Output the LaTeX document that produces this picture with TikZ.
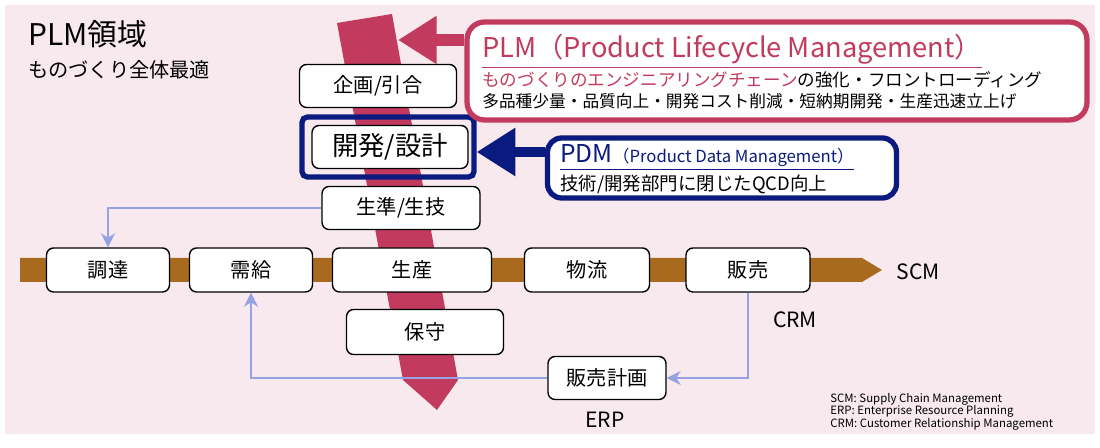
\documentclass[tikz,border=0pt]{standalone}
\usepackage{fontspec}
\setmainfont{Noto Sans CJK JP}
\usetikzlibrary{arrows.meta}
\definecolor{bgpink}{HTML}{F8E9EE}
\definecolor{plmred}{HTML}{C23A5E}
\definecolor{scmbrown}{HTML}{A86A1E}
\definecolor{pdmblue}{HTML}{0A1A7E}
\definecolor{flowblue}{HTML}{95A3E3}
\tikzset{
  proc/.style={draw=black, thick, fill=white, rounded corners=4pt, font=\fontsize{11.5}{12}\selectfont},
  flow/.style={flowblue, line width=1.4pt, -{Stealth[length=8pt,width=8pt]}},
}
\begin{document}
\begin{tikzpicture}[x=0.02cm, y=-0.02cm]
    \useasboundingbox (0,0) rectangle (1100,448);
    \fill[bgpink] (5,5) rectangle (1095,434);
    % SCM band
    \fill[scmbrown] (20,258) -- (862,258) -- (882,270) -- (862,282) -- (20,282) -- cycle;
    % PLM ribbon
    \fill[plmred] (337,23) -- (392,14) -- (458,380) -- (437,410) -- (403,380) -- cycle;
    \node[anchor=west, font=\fontsize{17}{17}\selectfont] (title) at (22,34) {PLM領域};
    \node[anchor=west, font=\fontsize{11.5}{12}\selectfont] (subtitle) at (22,70) {ものづくり全体最適};
    % process boxes
    \node[proc, minimum width=3.14cm, minimum height=0.86cm] (kikaku) at (378,86) {企画/引合};
    \node[draw=pdmblue, line width=3pt, rounded corners=3pt, minimum width=3.44cm, minimum height=1.2cm] (pdmframe) at (388,147) {};
    \node[proc, minimum width=3.12cm, minimum height=0.86cm, font=\fontsize{15}{15}\selectfont] (kaihatsu) at (390,147) {開発/設計};
    \node[proc, minimum width=3.16cm, minimum height=0.86cm] (seijun) at (401,208) {生準/生技};
    \node[proc, minimum width=2.46cm, minimum height=0.88cm] (chotatsu) at (108,270) {調達};
    \node[proc, minimum width=2.46cm, minimum height=0.88cm] (jukyu) at (251,270) {需給};
    \node[proc, minimum width=3.18cm, minimum height=0.88cm] (seisan) at (412,270) {生産};
    \node[proc, minimum width=2.5cm, minimum height=0.88cm] (butsuryu) at (587,270) {物流};
    \node[proc, minimum width=2.48cm, minimum height=0.88cm] (hanbai) at (748,270) {販売};
    \node[proc, minimum width=3.14cm, minimum height=0.9cm] (hoshu) at (425,332) {保守};
    \node[proc, minimum width=2.36cm, minimum height=0.86cm] (keikaku) at (607,378) {販売計画};
    % labels
    \node[font=\fontsize{12}{12}\selectfont] (scm) at (918,272) {SCM};
    \node[font=\fontsize{12}{12}\selectfont] (crm) at (795,320) {CRM};
    \node[font=\fontsize{12}{12}\selectfont] (erp) at (605,420) {ERP};
    \node[anchor=north west, align=left, font=\fontsize{6.5}{7}\selectfont, inner sep=0pt] (legend) at (830,393)
      {SCM: Supply Chain Management\\ERP: Enterprise Resource Planning\\CRM: Customer Relationship Management};
    % flows
    \draw[flow] (seijun.west) -| (chotatsu.north);
    \draw[flow] (hanbai.south) |- (keikaku.east);
    \draw[flow] (keikaku.west) -| (jukyu.south);
    % PLM box
    \node[draw=plmred, line width=3pt, fill=white, rounded corners=10pt, minimum width=12.4cm, minimum height=1.96cm] (plmbox) at (777,71) {};
    \node[anchor=north west, align=left, inner sep=0pt] (plmtext) at (482,34)
      {{\fontsize{15.5}{17}\selectfont\color{plmred}\underline{PLM（Product Lifecycle Management）}}\\[1pt]
       {\fontsize{10}{13}\selectfont\color{plmred}ものづくりのエンジニアリングチェーン\color{black}の強化・フロントローディング}\\
       {\fontsize{9.5}{13}\selectfont 多品種少量・品質向上・開発コスト削減・短納期開発・生産迅速立上げ}};
    \draw[plmred, line width=7pt, -{Triangle[length=22pt,width=26pt]}] (plmbox.west |- 0,40) -- (398,40);
    % PDM box
    \node[draw=pdmblue, line width=3pt, fill=white, rounded corners=8pt, minimum width=6.98cm, minimum height=1.2cm] (pdmbox) at (722,168) {};
    \node[anchor=north west, align=left, inner sep=0pt] (pdmtext) at (560,144)
      {{\color{pdmblue}\underline{{\fontsize{14}{14}\selectfont PDM}{\fontsize{9.5}{10}\selectfont（Product Data Management）}}}\\[2pt]
       {\fontsize{10.5}{11}\selectfont 技術/開発部門に閉じたQCD向上}};
    \draw[pdmblue, line width=6pt, -{Triangle[length=22pt,width=26pt]}] (pdmbox.west |- 0,152) -- (pdmframe.east |- 0,152);
\end{tikzpicture}
\end{document}
